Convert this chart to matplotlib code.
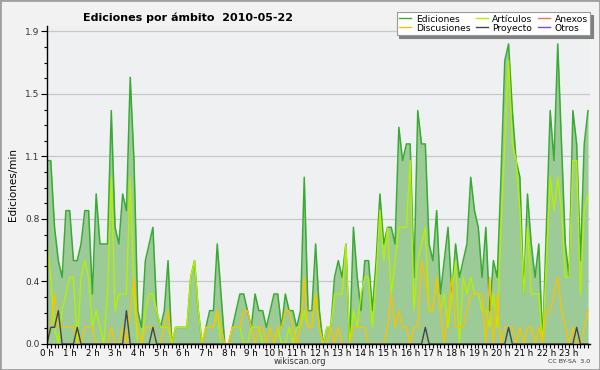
import numpy as np
import matplotlib
matplotlib.use("Agg")
import matplotlib.pyplot as plt
from matplotlib.lines import Line2D
from matplotlib.patches import Rectangle

# edits per 10-minute slot, 2010-05-22 (rate shown is edits/min = count/10)
ediciones = [11, 11, 7, 5, 4, 8, 8, 5, 5, 6, 8, 8,
             3, 9, 6, 6, 6, 14, 7, 6, 9, 8, 16, 11,
             2, 1, 5, 6, 7, 2, 1, 2, 5, 0, 1, 1,
             1, 1, 4, 5, 2, 0, 1, 2, 2, 6, 3, 0,
             0, 1, 2, 3, 3, 2, 1, 3, 2, 2, 1, 2,
             3, 3, 1, 3, 2, 2, 1, 2, 10, 2, 2, 6,
             2, 0, 1, 1, 4, 5, 4, 6, 0, 7, 4, 2,
             5, 5, 2, 5, 9, 6, 7, 7, 6, 13, 11, 12,
             12, 4, 14, 12, 12, 6, 5, 8, 3, 5, 7, 3,
             6, 4, 5, 6, 10, 8, 7, 4, 7, 2, 5, 4,
             10, 17, 18, 14, 11, 10, 3, 9, 6, 4, 6, 0,
             7, 14, 11, 18, 12, 6, 4, 14, 12, 5, 12, 14]
articulos = [6, 4, 1, 0, 2, 3, 4, 4, 0, 4, 5, 4,
             1, 2, 1, 0, 3, 10, 2, 3, 3, 3, 10, 3,
             0, 0, 2, 3, 3, 2, 1, 1, 1, 0, 1, 1,
             1, 1, 4, 5, 2, 0, 1, 1, 1, 2, 0, 0,
             0, 1, 1, 1, 0, 0, 1, 1, 1, 0, 0, 0,
             0, 1, 0, 0, 1, 0, 1, 1, 2, 1, 1, 3,
             1, 0, 1, 1, 3, 3, 3, 6, 0, 2, 1, 3,
             4, 4, 1, 4, 8, 5, 7, 3, 5, 7, 7, 7,
             11, 2, 5, 6, 7, 2, 2, 4, 2, 3, 1, 3,
             5, 0, 4, 3, 4, 3, 3, 2, 2, 1, 3, 1,
             7, 12, 17, 12, 11, 8, 3, 7, 3, 3, 3, 0,
             5, 10, 8, 10, 8, 4, 4, 11, 11, 3, 8, 9]
discusiones = [0, 1, 3, 1, 1, 1, 1, 1, 0, 0, 1, 1,
               1, 0, 0, 0, 0, 1, 0, 0, 1, 0, 2, 4,
               1, 0, 1, 1, 1, 0, 0, 1, 2, 0, 0, 0,
               0, 0, 0, 0, 0, 0, 1, 1, 1, 2, 1, 0,
               0, 1, 1, 1, 2, 2, 1, 0, 1, 1, 0, 1,
               0, 1, 1, 2, 2, 1, 0, 1, 4, 1, 1, 3,
               1, 0, 0, 1, 0, 1, 0, 0, 0, 1, 1, 1,
               1, 0, 0, 0, 0, 0, 1, 3, 1, 2, 1, 1,
               0, 1, 1, 5, 4, 2, 2, 4, 2, 0, 2, 4,
               1, 1, 1, 2, 3, 3, 3, 3, 0, 4, 0, 3,
               0, 1, 1, 1, 0, 1, 0, 1, 1, 0, 1, 0,
               2, 2, 3, 4, 2, 1, 0, 1, 0, 0, 1, 2]
proyecto = [0, 1, 1, 2, 0, 0, 0, 0, 1, 0, 0, 0,
            0, 0, 0, 0, 0, 0, 0, 0, 0, 2, 0, 0,
            0, 0, 0, 0, 1, 0, 0, 0, 0, 0, 0, 0,
            0, 0, 0, 0, 0, 0, 0, 0, 0, 0, 0, 0,
            0, 0, 0, 0, 0, 0, 0, 0, 0, 0, 0, 0,
            0, 0, 0, 0, 0, 0, 0, 0, 0, 0, 0, 0,
            0, 0, 0, 0, 0, 0, 0, 0, 0, 0, 0, 0,
            0, 0, 0, 0, 0, 0, 0, 0, 0, 0, 0, 0,
            0, 0, 0, 0, 1, 0, 0, 0, 0, 0, 0, 0,
            0, 0, 0, 0, 0, 0, 0, 0, 0, 0, 0, 0,
            0, 0, 1, 0, 0, 0, 0, 0, 0, 0, 0, 0,
            0, 0, 0, 0, 0, 0, 0, 0, 1, 0, 0, 0]

series_names = ["Ediciones", "Discusiones", "Artículos", "Proyecto", "Anexos", "Otros"]
hour_labels = ["%d h" % h for h in range(24)]
ytick_vals = [0.0, 0.375, 0.75, 1.125, 1.5, 1.875]
ytick_labels = ["0.0", "0.4", "0.8", "1.1", "1.5", "1.9"]

hours = np.arange(len(ediciones)) / 6.0
ed = np.array(ediciones) / 10.0
ar = np.array(articulos) / 10.0
di = np.array(discusiones) / 10.0
pr = np.array(proyecto) / 10.0

c_ed = "#3aaa35"
c_fill = "#9ccb98"
c_ar = "#b5f000"
c_di = "#f5c400"
c_pr = "#444444"
c_an = "#f07840"
c_ot = "#9040e0"

fig = plt.figure(figsize=(6, 3.7), dpi=100, facecolor="#f2f2f2")
fig.patches.append(Rectangle((0, 0), 1, 1, transform=fig.transFigure,
                             fill=False, edgecolor="#a0a0a0", linewidth=2))
ax = fig.add_axes([0.0783, 0.0703, 0.905, 0.8605])
ax.set_facecolor("#eef0f2")

ax.fill_between(hours, 0, ed, color=c_fill, linewidth=0, zorder=2)
ax.plot(hours, ed, color=c_ed, lw=1.1, zorder=3)
ax.plot(hours, ar, color=c_ar, lw=1.0, zorder=4)
ax.plot(hours, di, color=c_di, lw=1.0, zorder=5)
ax.plot(hours, pr, color=c_pr, lw=1.0, zorder=6)

ax.set_xlim(0, 23.92)
ax.set_ylim(0, 1.91)
ax.set_xticks(range(24))
ax.set_xticklabels(hour_labels, fontsize=6.3)
ax.set_xticks(np.arange(0, 24, 1 / 6.0), minor=True)
ax.set_yticks(ytick_vals)
ax.set_yticklabels(ytick_labels, fontsize=6.5, color="#333333")
ax.set_yticks(np.arange(0, 1.9, 0.09375), minor=True)
ax.tick_params(axis="x", which="both", direction="out", length=3, width=0.8, pad=0.5)
ax.tick_params(axis="y", which="major", direction="out", length=4, width=0.8, pad=1.5)
ax.tick_params(axis="y", which="minor", direction="out", length=2, width=0.8)
ax.grid(axis="y", color="#c8c8c8", lw=0.9, zorder=1)
ax.set_axisbelow(True)
for s in ["top", "right"]:
    ax.spines[s].set_visible(False)
for s in ["left", "bottom"]:
    ax.spines[s].set_linewidth(1.0)
    ax.spines[s].set_zorder(7)
ax.set_ylabel("Ediciones/min", fontsize=7.5, labelpad=5)

fig.text(0.313, 0.953, "Ediciones por ámbito  2010-05-22",
         fontsize=8, fontweight="bold", ha="center", va="center")

handles = [Line2D([], [], color=c_ed, lw=1),
           Line2D([], [], color=c_di, lw=1),
           Line2D([], [], color=c_ar, lw=1),
           Line2D([], [], color=c_pr, lw=1),
           Line2D([], [], color=c_an, lw=1),
           Line2D([], [], color=c_ot, lw=1)]
leg = fig.legend(handles, series_names, ncol=3, loc="upper right",
                 bbox_to_anchor=(0.984, 0.968), fontsize=6.6, frameon=True,
                 fancybox=False, edgecolor="#999999", framealpha=1,
                 shadow={"facecolor": "#808080", "edgecolor": "#808080", "alpha": 1},
                 handlelength=1.3, handletextpad=0.5, columnspacing=0.6,
                 labelspacing=0.0, borderpad=0.3, borderaxespad=0)
leg.get_frame().set_linewidth(0.8)

fig.text(0.5, 0.022, "wikiscan.org", fontsize=6, ha="center", va="center", color="#333333")
fig.text(0.983, 0.022, "CC BY-SA  3.0", fontsize=4.5, ha="right", va="center", color="#333333")

fig.savefig("out.png", dpi=100, facecolor=fig.get_facecolor())
